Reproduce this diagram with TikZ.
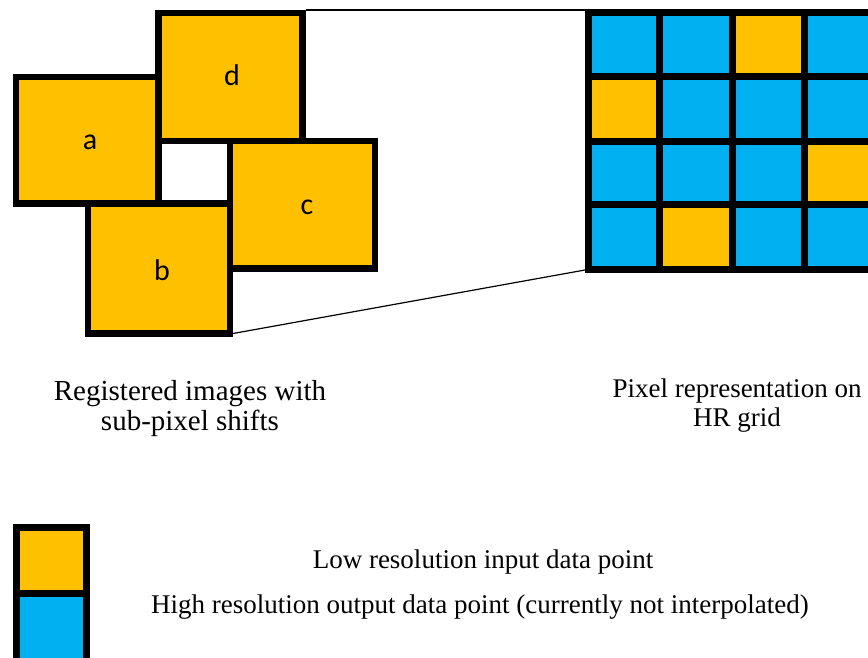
\documentclass[tikz,border=0pt]{standalone}
\usepackage{fontspec}
\setmainfont{Liberation Serif}
\newfontfamily\lblfont{Carlito}
\definecolor{lrorange}{HTML}{FFC000}
\definecolor{hrblue}{HTML}{00B0F0}
\tikzset{
  lrbox/.style={draw=black, line width=6.5pt, fill=lrorange},
  cellO/.style={draw=black, line width=7pt, fill=lrorange},
  cellB/.style={draw=black, line width=7pt, fill=hrblue},
  zoomline/.style={draw=black, line width=1.2pt},
  lbl/.style={font=\lblfont\fontsize{30}{30}\selectfont, inner sep=0pt},
  captext/.style={font=\fontsize{27}{29}\selectfont, align=center, anchor=base, inner sep=0pt},
}
\begin{document}
\begin{tikzpicture}[x=1pt,y=-1pt]
\useasboundingbox (0,0) rectangle (868,658);
\clip (0,0) rectangle (868,658);
% registered LR images
\draw[lrbox] (16,77) rectangle (158.5,203.5);
\node[lbl] (la) at (90,142) {a};
\draw[lrbox] (158.5,13) rectangle (302.5,141);
\node[lbl] (ld) at (232,75) {d};
\draw[lrbox] (230,141) rectangle (375,268.5);
\node[lbl] (lc) at (307,207) {c};
\draw[lrbox] (88,203.5) rectangle (230,333.5);
\node[lbl] (lb) at (162,270) {b};
\coordinate (dTR) at (305.5,10);
\coordinate (bBR) at (233,333.5);
% HR grid
\foreach \r/\ya/\yb in {0/13/77, 1/77/142, 2/142/204.5, 3/204.5/269} {
  \foreach \c/\xa/\xb in {0/588.5/659.5, 1/659.5/732.5, 2/732.5/804, 3/804/876} {
    \pgfmathtruncatemacro{\isO}{(\r==0 && \c==2) || (\r==1 && \c==0) || (\r==2 && \c==3) || (\r==3 && \c==1)}
    \ifnum\isO=1
      \draw[cellO] (\xa,\ya) rectangle (\xb,\yb);
    \else
      \draw[cellB] (\xa,\ya) rectangle (\xb,\yb);
    \fi
  }
}
\coordinate (gTL) at (585,10);
\coordinate (gBL) at (585,270);
\draw[zoomline] (dTR) -- (gTL);
\draw[zoomline] (bBR) -- (gBL);
% captions (anchor=base is the baseline of the last line)
\node[captext, font=\fontsize{29}{30}\selectfont] (capL) at (190,430) {Registered images with\\sub-pixel shifts};
\node[captext] (capR) at (737,426) {Pixel representation on\\HR grid};
% legend
\draw[cellO] (16.5,527.5) rectangle (86.5,593.5);
\draw[cellB] (16.5,593.5) rectangle (86.5,662);
\node[captext] (legO) at (483,568) {Low resolution input data point};
\node[captext] (legB) at (480,613) {High resolution output data point (currently not interpolated)};
\end{tikzpicture}
\end{document}
